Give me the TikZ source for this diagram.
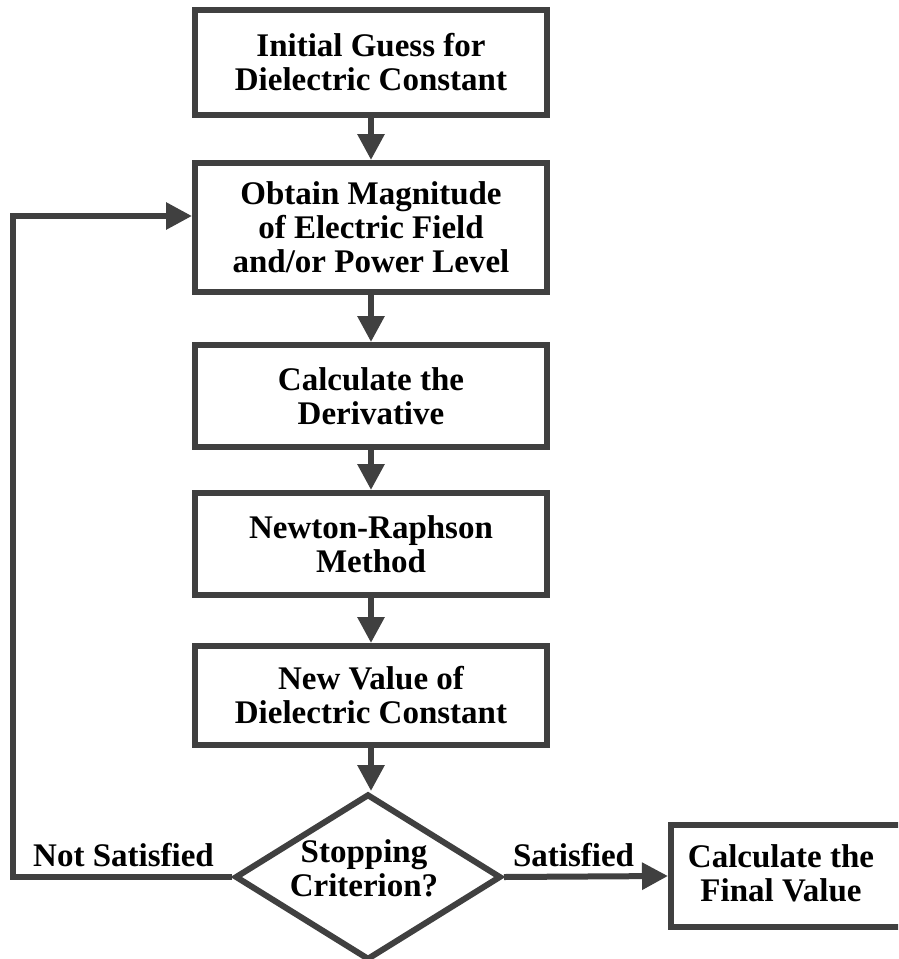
\documentclass[tikz,border=0pt]{standalone}
\usepackage{fontspec}
\setmainfont{Liberation Serif}
\usetikzlibrary{shapes.geometric,arrows.meta}
\definecolor{lnc}{HTML}{404040}
\tikzset{
  stepbox/.style={draw=lnc, line width=6pt, rectangle, minimum width=352pt, inner sep=0pt, align=center, font=\fontsize{33}{34}\selectfont\bfseries, text=black, fill=white},
  lbl/.style={font=\fontsize{33}{34}\selectfont\bfseries, text=black, inner sep=0pt, align=center},
  arr/.style={draw=lnc, line width=6pt, -{Triangle[length=26pt,width=26pt]}},
  ln/.style={draw=lnc, line width=6pt}
}
\begin{document}
\begin{tikzpicture}[x=1pt,y=-1pt]
\useasboundingbox (0,0) rectangle (898,959);
\clip (0,0) rectangle (898,959);
\fill[white] (0,0) rectangle (898,959);
\node[stepbox, minimum height=105pt] (b1) at (371,62.5) {Initial Guess for\\Dielectric Constant};
\node[stepbox, minimum height=129pt] (b2) at (371,227.5) {Obtain Magnitude\\of Electric Field\\and/or Power Level};
\node[stepbox, minimum height=102pt] (b3) at (371,396) {Calculate the\\Derivative};
\node[stepbox, minimum height=102pt] (b4) at (371,544) {Newton-Raphson\\Method};
\node[stepbox, minimum height=99pt] (b5) at (371,695.5) {New Value of\\Dielectric Constant};
\node[diamond, draw=lnc, line width=6pt, minimum width=266pt, minimum height=166pt, inner sep=0pt] (d) at (368,877) {};
\node[lbl] (dt) at (364,868) {Stopping\\Criterion?};
\node[stepbox, minimum width=240pt, minimum height=102pt] (bf) at (791,876) {};
\node[lbl] (bft) at (781,873) {Calculate the\\Final Value};
\coordinate (fb) at (13,877);
\coordinate (fbtop) at (13,216);
\draw[arr] (b1.south) -- (b2.north);
\draw[arr] (b2.south) -- (b3.north);
\draw[arr] (b3.south) -- (b4.north);
\draw[arr] (b4.south) -- (b5.north);
\draw[arr] (b5.south) -- (b5.south |- d.north);
\draw[arr] (d.east) -- (bf.west);
\draw[arr, line join=miter] (d.west) -- (fb) -- (fbtop) -- (fbtop -| b2.west);
\node[lbl, anchor=base] (ns) at (123.5,866) {Not Satisfied};
\node[lbl, anchor=base] (s) at (573.5,866) {Satisfied};
\end{tikzpicture}
\end{document}
